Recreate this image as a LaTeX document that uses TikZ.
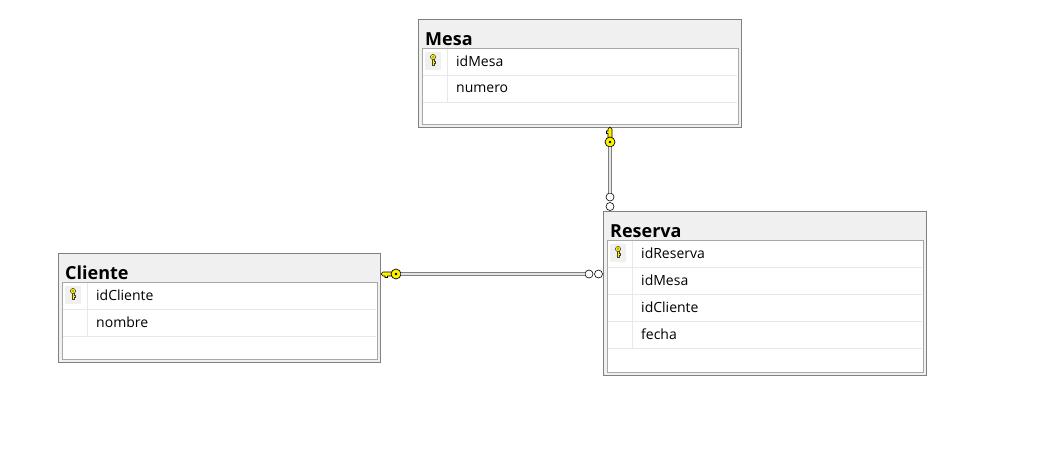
\documentclass[tikz,border=0pt]{standalone}
\usepackage{fontspec}
\setmainfont{Open Sans}
\usetikzlibrary{positioning}
\definecolor{cabecera}{HTML}{F0F0F0}
\definecolor{borde}{HTML}{808080}
\definecolor{bordein}{HTML}{A8A8A8}
\definecolor{fila}{HTML}{E8E8E8}
\definecolor{amarillo}{HTML}{FFF200}
\tikzset{
  tabla/.style={rectangle,draw=borde,fill=cabecera,line width=1pt,inner sep=0pt},
  titulo/.style={font=\bfseries\fontsize{18}{18}\selectfont,anchor=base west,inner sep=0pt},
  campo/.style={font=\fontsize{14}{14}\selectfont,anchor=west,inner sep=0pt},
  cabeza/.style={circle,draw=black,fill=amarillo,line width=.7pt,minimum size=10pt,inner sep=0pt},
  ceromuchos/.style={circle,draw=black,fill=white,line width=.6pt,minimum size=8pt,inner sep=0pt},
  enlace/.style={draw=gray,line width=.8pt,double=white!80!gray,double distance=1.6pt},
  llave/.pic={
    \draw[fill=amarillo,line width=.6pt] (-3pt,2pt) -- (-13pt,2pt) -- (-15pt,0pt) -- (-13pt,-2pt)
      -- (-11pt,-2pt) -- (-11pt,-3.5pt) -- (-8.5pt,-3.5pt) -- (-8.5pt,-2pt) -- (-3pt,-2pt) -- cycle;
  },
  llavechica/.pic={
    \draw[fill=amarillo,draw=black!75,line width=.5pt] (-2pt,1.2pt) -- (-8pt,1.2pt) -- (-8pt,-1.2pt)
      -- (-6pt,-1.2pt) -- (-6pt,-2.4pt) -- (-4.5pt,-2.4pt) -- (-4.5pt,-1.2pt) -- (-2pt,-1.2pt) -- cycle;
    \draw[fill=amarillo,draw=black!75,line width=.5pt] (0,0) circle (2.6pt);
    \fill[black] (0,0) circle (.7pt);
  }
}
\begin{document}
\begin{tikzpicture}[x=1pt,y=-1pt]
\useasboundingbox[fill=white] (0,0) rectangle (1049,453);
% tablas
\foreach \n/\x/\y/\w/\h/\t/\campos in {mesa/418/19/323/108/Mesa/{idMesa,numero},
    cliente/58/253/322/109/Cliente/{idCliente,nombre},
    reserva/603/211/323/164/Reserva/{idReserva,idMesa,idCliente,fecha}}{
  \node[tabla,minimum width=\w pt,minimum height=\h pt,anchor=north west] (\n) at (\x,\y) {};
  \node[titulo] (\n-titulo) at (\x+7,\y+26) {\t};
  \draw[bordein,fill=white] (\x+4,\y+29) rectangle (\x+\w-3,\y+\h-3);
  \fill[cabecera] (\x+7,\y+33) rectangle (\x+23,\y+51);
  \pic[rotate=90] at (\x+15,\y+38) {llavechica};
  \foreach \c [count=\i] in \campos {
    \node[campo] (\n-\i) at (\x+38,\y+29+27*\i-13.5) {\c};
    \draw[fila] (\x+5,\y+29+27*\i) -- (\x+\w-4,\y+29+27*\i);
    \draw[fila] (\x+29,\y+30+27*\i-27) -- (\x+29,\y+29+27*\i);
  }
}
% relacion mesa - reserva
\pic[rotate=-90] at (610,142) {llave};
\node[cabeza] (llaveM) at (610,142) {};
\fill (llaveM) circle (1.3pt);
\node[ceromuchos] (cM1) at (610,197) {};
\node[ceromuchos] (cM2) at (610,206.5) {};
\draw[enlace] (llaveM) -- (cM1);
% relacion cliente - reserva
\pic at (396,274) {llave};
\node[cabeza] (llaveC) at (396,274) {};
\fill (llaveC) circle (1.3pt);
\node[ceromuchos] (cC1) at (589,274) {};
\node[ceromuchos] (cC2) at (598.5,274) {};
\draw[enlace] (llaveC) -- (cC1);
\end{tikzpicture}
\end{document}
